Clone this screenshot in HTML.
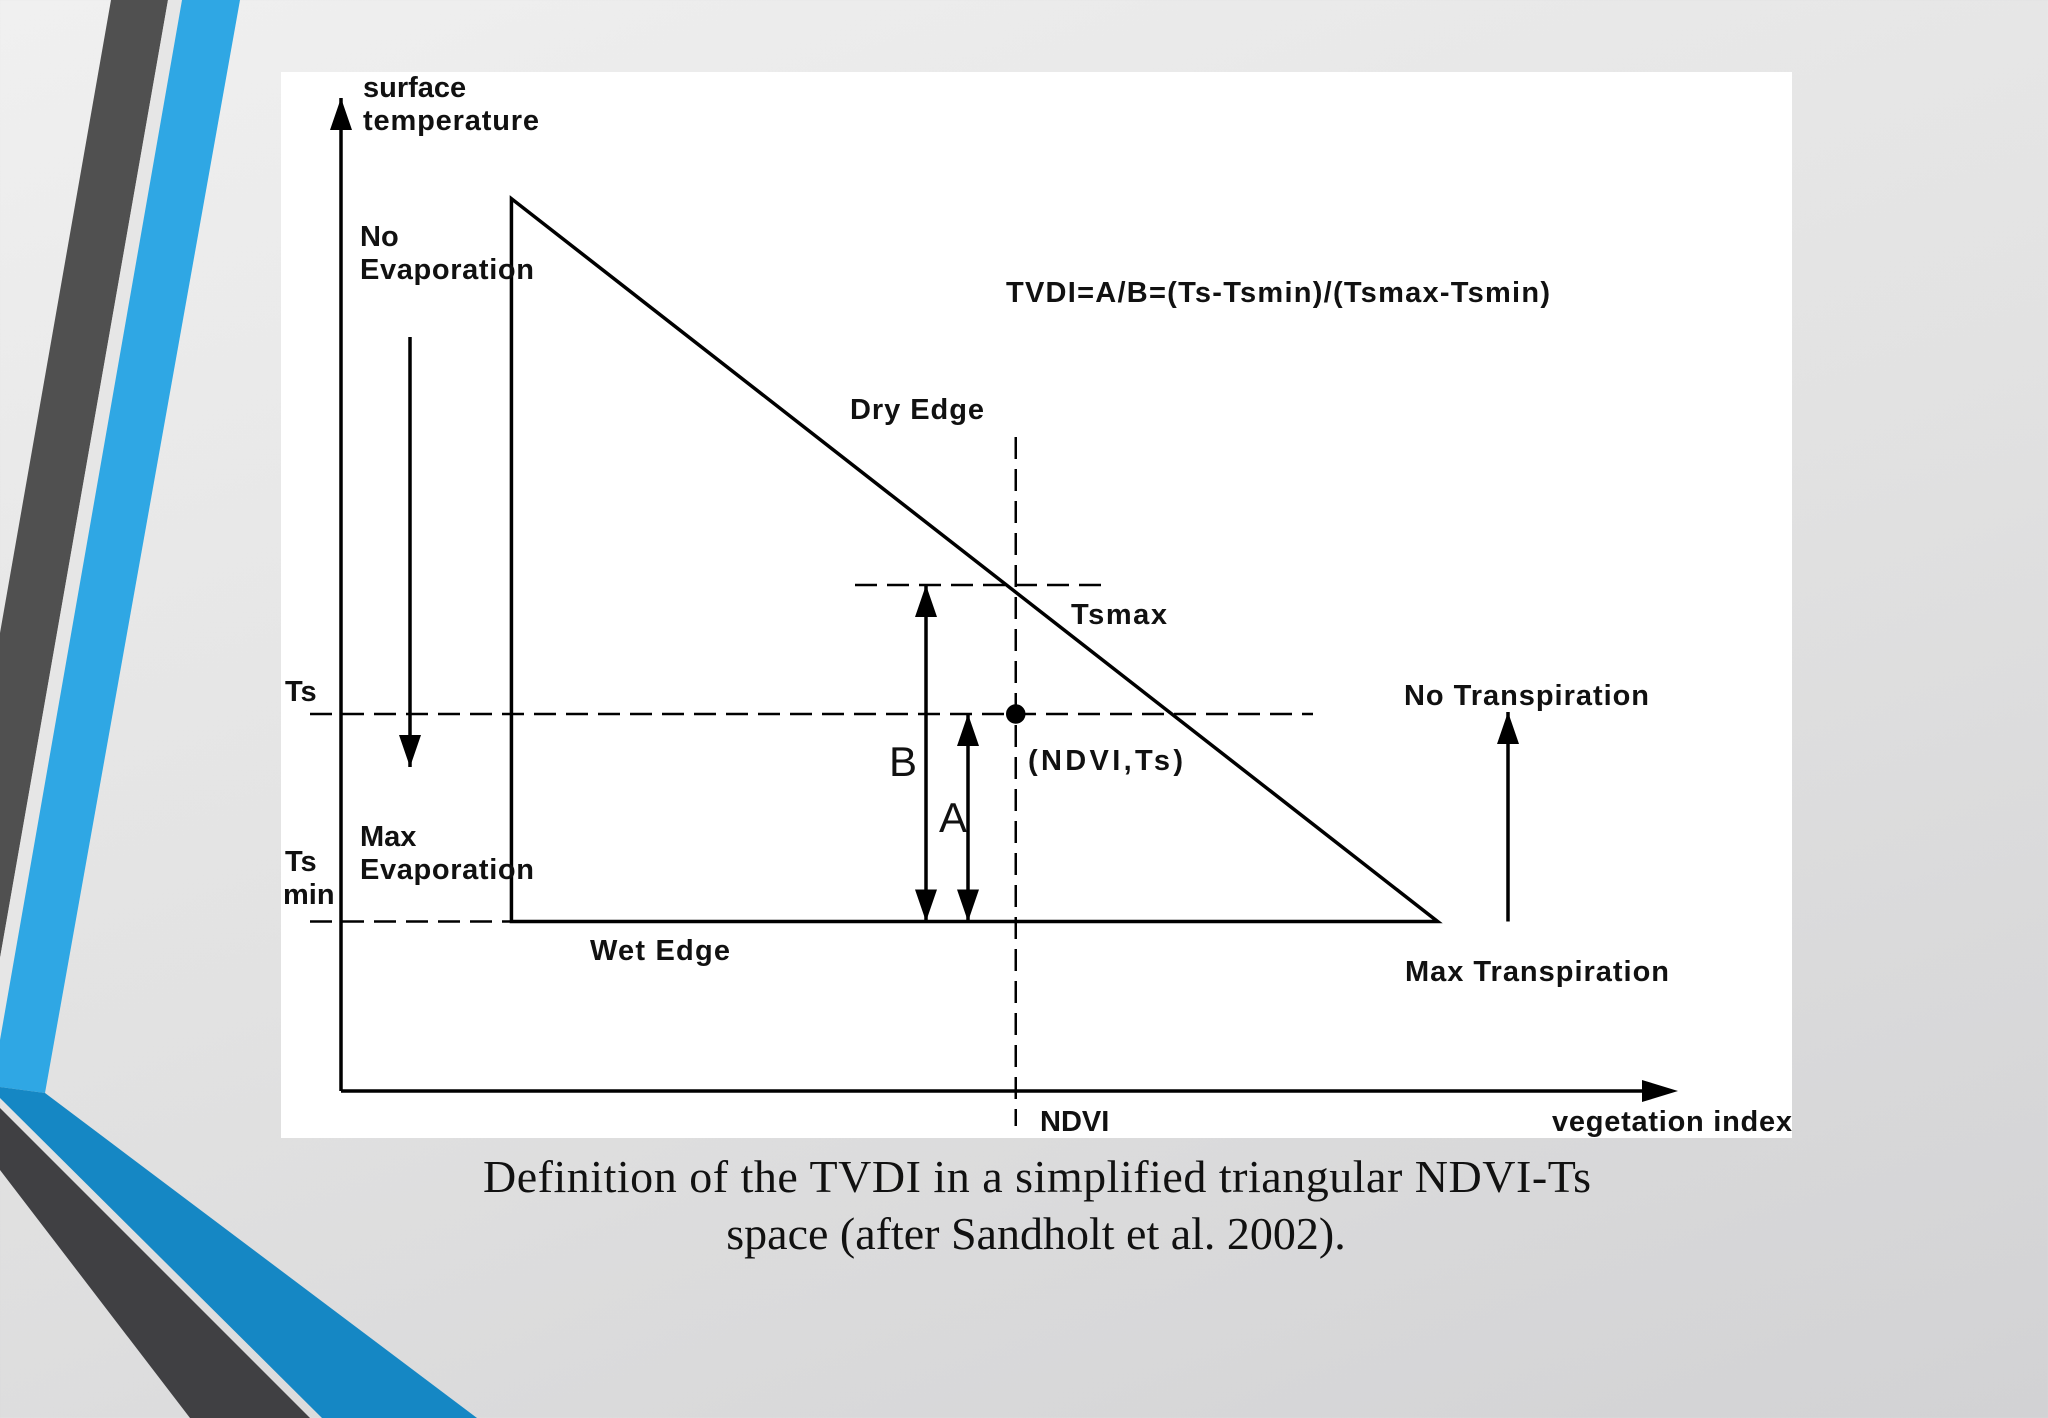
<!DOCTYPE html>
<html><head><meta charset="utf-8"><style>
html,body{margin:0;padding:0;width:2048px;height:1418px;overflow:hidden}
body{background:linear-gradient(160deg,#f0f0f0 0%,#e2e2e2 50%,#d2d2d4 100%);font-family:"Liberation Sans",sans-serif}
</style></head><body>
<svg width="2048" height="1418" viewBox="0 0 2048 1418" xmlns="http://www.w3.org/2000/svg">
<defs></defs>
<g>
<polygon points="111,0 168,0 0,958 0,633" fill="#505050"/>
<polygon points="168,0 182,0 0,1040 0,958" fill="#e6e6e6"/>
<polygon points="182,0 240,0 45,1093 0,1087 0,1040" fill="#2fa7e4"/>
<polygon points="0,1087 45,1093 477,1418 322,1418 0,1098" fill="#1587c4"/>
<polygon points="0,1108 310,1418 190,1418 0,1170" fill="#404043"/>
</g>
<rect x="281" y="72" width="1511" height="1066" fill="#fff"/>
<g id="chart" stroke="#000" fill="none" stroke-width="3.5"></g>
<g font-family="Liberation Sans, sans-serif" font-weight="bold" font-size="29" fill="#111">
<text x="363" y="97">surface</text>
<text x="363" y="130" textLength="176">temperature</text>
<text x="360" y="246">No</text>
<text x="360" y="279" textLength="174">Evaporation</text>
<text x="1006" y="302" textLength="544">TVDI=A/B=(Ts-Tsmin)/(Tsmax-Tsmin)</text>
<text x="850" y="419" textLength="134">Dry Edge</text>
<text x="1071" y="624" textLength="96">Tsmax</text>
<text x="285" y="701">Ts</text>
<text x="1404" y="705" textLength="245">No Transpiration</text>
<text x="1028" y="770" textLength="155">(NDVI,Ts)</text>
<text x="360" y="846">Max</text>
<text x="360" y="879" textLength="174">Evaporation</text>
<text x="285" y="871">Ts</text>
<text x="283" y="904">min</text>
<text x="590" y="960" textLength="140">Wet Edge</text>
<text x="1405" y="981" textLength="264">Max Transpiration</text>
<text x="1040" y="1131">NDVI</text>
<text x="1552" y="1131" textLength="240">vegetation index</text>
</g>
<g font-family="Liberation Sans, sans-serif" font-size="42" fill="#111">
<text x="889" y="776">B</text>
<text x="939" y="832">A</text>
</g>
<g font-family="Liberation Serif, serif" font-size="46" fill="#111" text-anchor="middle">
<text x="1037" y="1192" textLength="1108">Definition of the TVDI in a simplified triangular NDVI-Ts</text>
<text x="1036" y="1249">space (after Sandholt et al. 2002).</text>
</g>
</svg>
<script>
// Diagram values (data units: x = vegetation index 0..1, y = surface temperature 0..1)
const triangleX = [0.122, 0.122, 0.785];
const triangleY = [0.858, 0.163, 0.163];
const pointX = [0.483];
const pointY = [0.3625];
const tsmaxY = [0.4865];
const tsminY = [0.163];
// axis functions
const X0 = 341, X1 = 1678, Y0 = 1091, Y1 = 98;
function sx(v){ return 341 + v * 1397; }
function sy(v){ return 1091 - v * 1040; }
const g = document.getElementById('chart');
const NS = 'http://www.w3.org/2000/svg';
function line(x1,y1,x2,y2,name,dash){
  const l = document.createElementNS(NS,'line');
  l.setAttribute('x1',x1);l.setAttribute('y1',y1);l.setAttribute('x2',x2);l.setAttribute('y2',y2);
  if(dash){l.setAttribute('stroke-dasharray',dash);l.setAttribute('stroke-width','2.5');}
  
  
  g.appendChild(l);
  return l;
}
function head(x,y,up,name){
  const p=document.createElementNS(NS,'path');
  const d = up ? `M${x-11},${y+32} L${x},${y} L${x+11},${y+32} z` : `M${x-11},${y-32} L${x},${y} L${x+11},${y-32} z`;
  p.setAttribute('d',d);p.setAttribute('fill','#000');p.setAttribute('stroke','none');
  
  
  g.appendChild(p);
}
function arrowLine(x,ya,yb,up,down,name){
  line(x,ya,x,yb,name);
  if(up) head(x,ya,true,name+'-head-up');
  if(down) head(x,yb,false,name+'-head-down');
}
// axes
arrowLine(X0, Y1, Y0, true, false, 'y-axis');
line(X0, Y0, X1-30, Y0, 'x-axis');
const xh=document.createElementNS(NS,'path');
xh.setAttribute('d',`M${X1-36},${Y0-11} L${X1},${Y0} L${X1-36},${Y0+11} z`);
xh.setAttribute('fill','#000');xh.setAttribute('stroke','none');


g.appendChild(xh);
// triangle
const tri = document.createElementNS(NS,'polygon');
tri.setAttribute('points', triangleX.map((v,i)=>sx(v)+','+sy(triangleY[i])).join(' '));
tri.setAttribute('stroke-linejoin','miter');


g.appendChild(tri);
const px = sx(pointX[0]), py = sy(pointY[0]);
// dashed lines
line(310, py, 1313, py, 'ts-dashed-line', '22,10');
line(310, sy(tsminY[0]), sx(triangleX[0]), sy(tsminY[0]), 'tsmin-dashed-line', '22,10');
line(855, sy(tsmaxY[0]), 1110, sy(tsmaxY[0]), 'tsmax-dashed-line', '22,10');
line(px, 437, px, 1126, 'ndvi-dashed-line', '22,10');
// point
const c = document.createElementNS(NS,'circle');
c.setAttribute('cx',px);c.setAttribute('cy',py);c.setAttribute('r','8');c.setAttribute('fill','#000');


g.appendChild(c);
// B and A arrows
arrowLine(926, sy(tsmaxY[0]), sy(tsminY[0]), true, true, 'b-arrow');
arrowLine(968, py, sy(tsminY[0]), true, true, 'a-arrow');
// evaporation & transpiration arrows
arrowLine(410, 337, 767, false, true, 'evaporation-arrow');
arrowLine(1508, 712, sy(tsminY[0]), true, false, 'transpiration-arrow');
</script>
</body></html>
